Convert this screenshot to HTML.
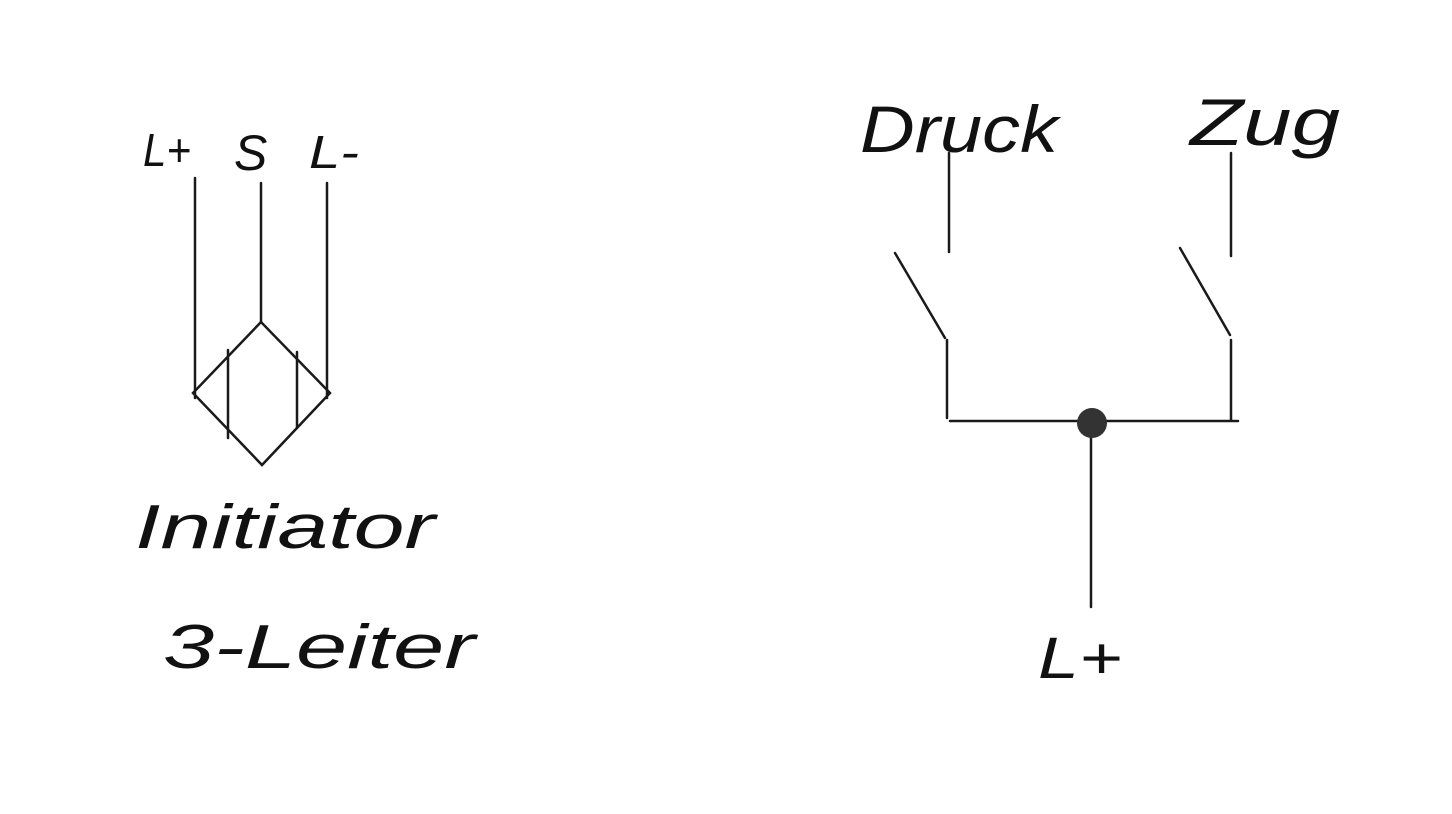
<!DOCTYPE html>
<html><head><meta charset="utf-8"><style>
html,body{margin:0;padding:0;background:#fff;}
svg{display:block}
text{font-family:"Liberation Sans",sans-serif;fill:#111;font-weight:normal}
</style></head><body>
<svg width="1452" height="814" viewBox="0 0 1452 814" xmlns="http://www.w3.org/2000/svg">
<g stroke="#1a1a1a" stroke-width="2.5" fill="none" stroke-linecap="round">
<line x1="195" y1="178" x2="195" y2="398"/>
<line x1="261" y1="183" x2="261" y2="322"/>
<line x1="327" y1="183" x2="327" y2="398"/>
<polygon points="261,322 193,393 262,465 330,393"/>
<line x1="228" y1="350" x2="228" y2="438"/>
<line x1="297" y1="352" x2="297" y2="428"/>
<line x1="949" y1="153" x2="949" y2="252"/>
<line x1="895" y1="253" x2="945" y2="338"/>
<line x1="947" y1="340" x2="947" y2="418"/>
<line x1="950" y1="421" x2="1238" y2="421"/>
<line x1="1231" y1="153" x2="1231" y2="256"/>
<line x1="1180" y1="248" x2="1230" y2="335"/>
<line x1="1231" y1="340" x2="1231" y2="420"/>
<line x1="1091" y1="423" x2="1091" y2="607"/>
</g>
<circle cx="1092" cy="423" r="15" fill="#333"/>
<text x="143" y="166" font-size="46" font-style="italic" textLength="48" lengthAdjust="spacingAndGlyphs">L+</text>
<text x="234" y="170" font-size="50" font-style="italic">S</text>
<text x="309" y="168" font-size="46" font-style="italic" textLength="50" lengthAdjust="spacingAndGlyphs">L-</text>
<text x="135" y="548" font-size="62" font-style="italic" textLength="300" lengthAdjust="spacingAndGlyphs">Initiator</text>
<text x="163" y="668" font-size="62" font-style="italic" textLength="312" lengthAdjust="spacingAndGlyphs">3-Leiter</text>
<text x="860" y="152" font-size="66" font-style="italic" textLength="198" lengthAdjust="spacingAndGlyphs">Druck</text>
<text x="1190" y="145" font-size="66" font-style="italic" textLength="150" lengthAdjust="spacingAndGlyphs">Zug</text>
<text x="1038" y="678" font-size="58" font-style="italic" textLength="84" lengthAdjust="spacingAndGlyphs">L+</text>
</svg>
</body></html>
